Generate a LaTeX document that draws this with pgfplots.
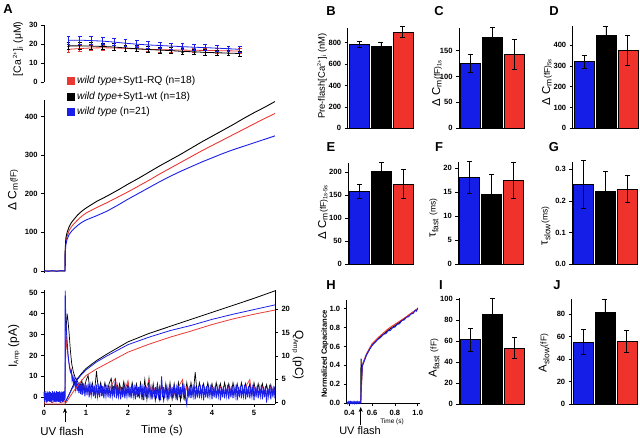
\documentclass[border=0pt]{standalone}
\usepackage{fontspec}
\setmainfont{Liberation Sans}
\usepackage{pgfplots}
\pgfplotsset{compat=1.18}
\usetikzlibrary{arrows.meta}
\definecolor{cblue}{RGB}{25,30,235}
\definecolor{cred}{RGB}{235,55,50}
\definecolor{bblue}{RGB}{20,30,230}
\definecolor{bred}{RGB}{240,50,45}
\pgfplotsset{
 base/.style={scale only axis, tick align=outside, tick style={black, line width=0.6bp}, major tick length=3bp,
   axis line style={line width=0.8bp}, ticklabel style={font=\fontsize{7.6}{9}\selectfont\bfseries},
   /pgf/number format/assume math mode=true, clip=false},
 barp/.style={base, width=65bp, xmin=-0.52, xmax=2.45, ymin=0, axis x line*=bottom, axis y line*=left, xtick=\empty},
 bp/.style={ybar, bar width=0.91, bar shift=0pt, draw=black, line width=0.6bp},
 eb/.style={error bars/.cd, y dir=both, y explicit, error bar style={line width=0.8bp,black}, error mark options={rotate=90, mark size=2.5bp, line width=0.8bp, black}},
 ebc/.style={error bars/.cd, y dir=both, y explicit, error bar style={line width=0.7bp,#1}, error mark options={rotate=90, mark size=1.8bp, line width=0.7bp, #1}},
}
\newcommand{\lab}[1]{{\fontsize{11.5}{12}\selectfont #1}}
\newcommand{\sub}[1]{\textsubscript{\fontsize{8.5}{9}\selectfont #1}}
\newcommand{\sm}[1]{{\fontsize{8.5}{9}\selectfont #1}}
\begin{document}
\begin{tikzpicture}
\path[use as bounding box] (0,0) rectangle (640bp,438bp);

% ---------- A top: Ca ----------
\begin{axis}[base, at={(44bp,356bp)}, anchor=south west, width=231bp, height=57bp, xmin=0, xmax=5.5, ymin=0, ymax=30,
  axis x line=none, axis y line*=left, ytick={0,10,20,30}]
\addplot[cred, line width=0.8bp, ebc=cred] coordinates {
(0.58,17.2)+-(0,1.5)(0.85,17.6)+-(0,1.5)(1.12,17.9)+-(0,1.5)(1.40,18.0)+-(0,1.5)(1.67,17.9)+-(0,1.4)(1.94,17.7)+-(0,1.4)(2.21,17.4)+-(0,1.4)(2.48,17.2)+-(0,1.3)(2.76,17.0)+-(0,1.3)(3.03,16.9)+-(0,1.3)(3.30,16.8)+-(0,1.3)(3.57,16.7)+-(0,1.2)(3.84,16.6)+-(0,1.2)(4.12,16.5)+-(0,1.2)(4.39,16.4)+-(0,1.2)(4.66,16.3)+-(0,1.2)};
\addplot[black, line width=0.8bp, ebc=black] coordinates {
(0.58,19.0)+-(0,1.8)(0.85,19.0)+-(0,1.8)(1.12,18.9)+-(0,1.8)(1.40,18.7)+-(0,1.7)(1.67,18.4)+-(0,1.7)(1.94,17.9)+-(0,1.6)(2.21,17.5)+-(0,1.6)(2.48,17.1)+-(0,1.5)(2.76,16.8)+-(0,1.5)(3.03,16.5)+-(0,1.5)(3.30,16.1)+-(0,1.4)(3.57,15.9)+-(0,1.4)(3.84,15.6)+-(0,1.4)(4.12,15.4)+-(0,1.3)(4.39,15.2)+-(0,1.3)(4.66,15.0)+-(0,1.3)};
\addplot[cblue, line width=0.8bp, ebc=cblue] coordinates {
(0.58,22.0)+-(0,2.0)(0.85,22.0)+-(0,2.0)(1.12,21.8)+-(0,2.0)(1.40,21.5)+-(0,1.9)(1.67,21.0)+-(0,1.9)(1.94,20.4)+-(0,1.8)(2.21,19.9)+-(0,1.8)(2.48,19.5)+-(0,1.7)(2.76,19.2)+-(0,1.7)(3.03,18.9)+-(0,1.6)(3.30,18.6)+-(0,1.6)(3.57,18.3)+-(0,1.5)(3.84,18.1)+-(0,1.5)(4.12,17.8)+-(0,1.5)(4.39,17.5)+-(0,1.4)(4.66,17.2)+-(0,1.4)};
\end{axis}

% ---------- A middle: Cm ----------
\begin{axis}[base, at={(44bp,165.1bp)}, anchor=south west, width=231bp, height=172.9bp, xmin=0, xmax=5.5, ymin=-5, ymax=443,
  axis x line=none, axis y line*=left, ytick={0,100,200,300,400},
  legend style={at={(0.087,1.16)}, anchor=north west, draw=none, fill=none, font=\fontsize{10.3}{12}\selectfont, row sep=2.6bp},
  legend cell align=left,
  legend image code/.code={\fill[#1] (0bp,-3.5bp) rectangle (7bp,3.5bp);}]
\addplot[cred, line width=0.9bp] coordinates {(0,0)(0.5,0)(0.505,50)(0.52,75)(0.55,90)(0.6,105)(0.65,114)(0.7,121)(0.8,132)(0.9,142)(1.0,150)(1.25,164)(1.5,177)(1.75,191)(2.0,205)(2.25,220)(2.5,235)(2.75,251)(3.0,266)(3.25,281)(3.5,296)(3.75,311)(4.0,325)(4.25,339)(4.5,353)(4.75,367)(5.0,381)(5.25,395)(5.5,408)};
\addlegendentry{\textit{wild type}+Syt1-RQ (n=18)}
\addplot[black, line width=0.9bp] coordinates {(0,0)(0.5,0)(0.505,55)(0.52,85)(0.55,100)(0.6,115)(0.65,125)(0.7,132)(0.8,145)(0.9,155)(1.0,163)(1.25,180)(1.5,194)(1.75,209)(2.0,225)(2.25,240)(2.5,256)(2.75,272)(3.0,287)(3.25,302)(3.5,318)(3.75,334)(4.0,349)(4.25,364)(4.5,379)(4.75,395)(5.0,410)(5.25,424)(5.5,439)};
\addlegendentry{\textit{wild type}+Syt1-wt (n=18)}
\addplot[cblue, line width=0.9bp] coordinates {(0,1)(0.1,-1)(0.2,1)(0.3,-1)(0.4,1)(0.5,0)(0.505,45)(0.52,68)(0.55,82)(0.6,95)(0.65,102)(0.7,108)(0.8,118)(0.9,126)(1.0,132)(1.25,143)(1.5,155)(1.75,170)(2.0,186)(2.25,201)(2.5,216)(2.75,231)(3.0,245)(3.25,258)(3.5,270)(3.75,282)(4.0,293)(4.25,304)(4.5,314)(4.75,323)(5.0,332)(5.25,341)(5.5,350)};
\addlegendentry{\textit{wild type} (n=21)}
\end{axis}

% ---------- A bottom: I amp ----------
\begin{axis}[base, at={(44bp,34bp)}, anchor=south west, width=231bp, height=114bp, xmin=0, xmax=5.5, ymin=-3.2, ymax=51.3,
  axis x line*=bottom, axis y line*=left, xtick={0,1,2,3,4,5}, ytick={0,10,20,30,40,50}]
\addplot[black, line width=0.7bp] coordinates {(0,1)(0.1,-1)(0.2,1.5)(0.3,-1)(0.4,1)(0.5,0)(0.51,20)(0.53,34)(0.55,40)(0.57,37)(0.6,30)(0.63,22)(0.66,16)(0.7,12)(0.75,9)(0.8,7.5)(0.85,5)(0.9,8)(0.95,3)(1.0,8)(1.05,10.5)(1.1,2.5)(1.15,7)(1.2,2)(1.25,12.5)(1.3,2.5)(1.35,7)(1.4,1.5)(1.45,7)(1.5,2)(1.55,6.5)(1.6,9)(1.65,2)(1.7,7)(1.75,1.5)(1.8,6.5)(1.85,2)(1.9,7.5)(1.95,1.5)(2.0,6.5)(2.05,1)(2.1,7)(2.15,1.5)(2.2,6.5)(2.25,1)(2.3,7)(2.35,0)(2.4,8.5)(2.45,-1)(2.5,9)(2.55,0)(2.6,6.5)(2.65,-1.5)(2.7,6.5)(2.75,-1)(2.8,7)(2.85,-1.5)(2.9,6.5)(2.95,-1)(3.0,7)(3.05,-1)(3.1,6.5)(3.15,0)(3.2,7)(3.25,-1.5)(3.3,6.5)(3.35,-0.5)(3.4,7)(3.45,0.5)(3.5,7)(3.55,1)(3.6,12)(3.65,1)(3.7,7)(3.75,1.5)(3.8,6.5)(3.85,1)(3.9,7)(3.95,1.5)(4.0,6.5)(4.05,1)(4.1,7)(4.15,1.5)(4.2,6.5)(4.25,1)(4.3,7)(4.35,1.5)(4.4,6.5)(4.45,1)(4.5,7)(4.55,1.5)(4.6,6.5)(4.65,1)(4.7,7)(4.75,1.5)(4.8,6.5)(4.85,1.5)(4.9,6.5)(4.95,1)(5.0,7)(5.05,1.5)(5.1,6.5)(5.15,1)(5.2,6.5)(5.25,1.5)(5.3,6)(5.35,1)(5.4,6)(5.45,1.5)(5.5,5)};
\addplot[cred, line width=0.7bp] coordinates {(0,-2.5)(0.1,-1.5)(0.2,-2.5)(0.3,-1.5)(0.4,-2.5)(0.5,-2)(0.51,15)(0.53,29)(0.55,24)(0.58,18)(0.62,14)(0.66,11)(0.7,9)(0.75,7)(0.8,6)(0.9,5)(0.95,2)(1.0,5.5)(1.1,1.5)(1.2,5)(1.3,1.5)(1.4,5)(1.5,2)(1.6,5.5)(1.7,9)(1.75,2)(1.8,5)(1.9,1.5)(2.0,8)(2.05,2)(2.1,5)(2.2,1.5)(2.3,5)(2.4,2)(2.5,8.5)(2.55,1.5)(2.6,5)(2.7,1.5)(2.8,5)(2.9,2)(3.0,5)(3.1,1.5)(3.2,5)(3.3,8.5)(3.35,1.5)(3.4,5)(3.5,2)(3.6,5)(3.7,1.5)(3.8,5)(3.9,2)(4.0,5)(4.1,1.5)(4.2,5)(4.3,2)(4.4,5)(4.5,1.5)(4.6,5)(4.7,2)(4.8,5)(4.9,8.5)(4.95,1.5)(5.0,5)(5.1,2)(5.2,5)(5.3,1.5)(5.4,5)(5.5,2)};
\addplot[cblue, line width=0.9bp] coordinates {(0,2.5)(0.0125,-2)(0.025,3)(0.0375,-1.5)(0.05,2)(0.0625,-2.5)(0.075,2.8)(0.0875,-2)(0.1,2.2)(0.1125,-1.8)(0.125,3)(0.1375,-2.2)(0.15,2.5)(0.1625,-2)(0.175,2)(0.1875,-2.6)(0.2,3)(0.2125,-1.5)(0.225,2.4)(0.2375,-2.2)(0.25,2.8)(0.2625,-2)(0.275,2.2)(0.2875,-2.4)(0.3,3)(0.3125,-1.8)(0.325,2.5)(0.3375,-2.2)(0.35,2.6)(0.3625,-2)(0.375,3)(0.3875,-2.5)(0.4,2.2)(0.4125,-1.8)(0.425,2.8)(0.4375,-2.2)(0.45,2.5)(0.4625,-2)(0.475,3)(0.4875,-1.5)(0.5,1)
(0.505,51)(0.515,40)(0.53,33)(0.55,27)(0.57,21)(0.59,17)(0.61,14)(0.63,12)(0.65,13)(0.67,8)(0.69,10)(0.71,6)(0.73,8.5)(0.75,4)(0.77,7.5)(0.79,3)(0.81,7)(0.83,2)(0.85,7)(0.87,1.5)(0.89,6.5)(0.91,1)(0.93,6.5)
(0.950,6.5)(0.975,0.5)(1.000,6)(1.025,1)(1.050,6.5)(1.075,0)(1.100,5.5)(1.125,1)(1.150,6)(1.175,0.5)(1.200,5.5)(1.225,-0.5)(1.250,6)(1.275,0.5)(1.300,5)(1.325,0)(1.350,6)(1.375,0.5)(1.400,5.5)(1.425,-0.5)(1.450,5)(1.475,0.5)(1.500,6)(1.525,0)(1.550,5.5)(1.575,-0.5)(1.600,5)(1.625,0.5)(1.650,5.5)(1.675,0)(1.700,9)(1.725,-0.5)(1.750,5)(1.775,0.5)(1.800,5.5)(1.825,-1)(1.850,5)(1.875,0)(1.900,6)(1.925,-0.5)(1.950,5)(1.975,0.5)
(2.000,5.5)(2.025,0)(2.050,5)(2.075,-0.5)(2.100,6)(2.125,0.5)(2.150,4.5)(2.175,-1)(2.200,5.5)(2.225,0)(2.250,5)(2.275,-0.5)(2.300,6)(2.325,0.5)(2.350,4.5)(2.375,-1.5)(2.400,5.5)(2.425,0)(2.450,5)(2.475,-0.5)(2.500,6)(2.525,0.5)(2.550,4.5)(2.575,-1)(2.600,5.5)(2.625,0)(2.650,5)(2.675,-0.5)(2.700,6)(2.725,0.5)(2.750,4.5)(2.775,-1.5)(2.800,10)(2.825,0)(2.850,5)(2.875,-0.5)(2.900,6)(2.925,0.5)(2.950,4.5)(2.975,-1)
(3.000,5.5)(3.025,0)(3.050,5)(3.075,-0.5)(3.100,6)(3.125,0.5)(3.150,4.5)(3.175,-1.5)(3.200,5.5)(3.225,0)(3.250,5)(3.275,-0.5)(3.300,6)(3.325,0.5)(3.350,4.5)(3.375,-1)(3.400,-3.5)(3.425,5)(3.450,0)(3.475,5.5)(3.500,-0.5)(3.525,4.5)(3.550,0.5)(3.575,6)(3.600,-1)(3.625,5)(3.650,0)(3.675,5.5)(3.700,-0.5)(3.725,4.5)(3.750,0.5)(3.775,6)(3.800,-1.5)(3.825,5)(3.850,0)(3.875,5.5)(3.900,-0.5)(3.925,4.5)(3.950,0.5)(3.975,6)
(4.000,-1)(4.025,5)(4.050,0)(4.075,5.5)(4.100,-0.5)(4.125,4.5)(4.150,0.5)(4.175,6)(4.200,-1.5)(4.225,5)(4.250,0)(4.275,5.5)(4.300,-0.5)(4.325,4.5)(4.350,0.5)(4.375,6)(4.400,-1)(4.425,5)(4.450,0)(4.475,5.5)(4.500,-0.5)(4.525,4.5)(4.550,0.5)(4.575,6)(4.600,-1.5)(4.625,5)(4.650,0)(4.675,5.5)(4.700,-0.5)(4.725,4.5)(4.750,0.5)(4.775,6)(4.800,-1)(4.825,5)(4.850,0)(4.875,5.5)(4.900,-0.5)(4.925,4.5)(4.950,0.5)(4.975,6)
(5.000,-1.5)(5.025,5)(5.050,0)(5.075,5.5)(5.100,-0.5)(5.125,4.5)(5.150,0.5)(5.175,6)(5.200,-1)(5.225,5)(5.250,0)(5.275,5.5)(5.300,-2.5)(5.325,4.5)(5.350,0.5)(5.375,6)(5.400,-1)(5.425,5)(5.450,0)(5.475,5.5)(5.500,-0.5)};
\end{axis}
\begin{axis}[base, at={(44bp,34bp)}, anchor=south west, width=231bp, height=114bp, xmin=0, xmax=5.5, ymin=-0.28, ymax=24.08,
  axis x line=none, axis y line*=right, ytick={0,5,10,15,20}]
\addplot[black, line width=0.8bp] coordinates {(0.5,0)(0.6,1.8)(0.7,3.8)(0.8,5.2)(0.9,6.3)(1.0,7.3)(1.25,9.0)(1.5,10.4)(2.0,13.0)(2.5,14.8)(3.0,16.3)(3.5,17.8)(4.0,19.3)(4.5,20.8)(5.0,22.3)(5.5,23.9)};
\addplot[cblue, line width=0.8bp] coordinates {(0.5,0)(0.6,1.8)(0.7,3.6)(0.8,5.0)(0.9,6.1)(1.0,7.0)(1.25,8.7)(1.5,10.0)(2.0,12.4)(2.5,14.0)(3.0,15.4)(3.5,16.5)(4.0,17.8)(4.5,18.9)(5.0,19.9)(5.5,20.9)};
\addplot[cred, line width=0.8bp] coordinates {(0,-0.3)(0.5,-0.3)(0.6,1.0)(0.7,2.4)(0.8,3.6)(0.9,4.8)(1.0,5.8)(1.25,7.2)(1.5,8.4)(2.0,10.8)(2.5,12.5)(3.0,14.0)(3.5,15.3)(4.0,16.7)(4.5,17.9)(5.0,18.9)(5.5,19.8)};
\end{axis}

% ---------- B ----------
\begin{axis}[barp, at={(347.7bp,309.7bp)}, anchor=south west, height=100.3bp, ymax=937, ytick={0,200,400,600,800}]
\addplot[bp, fill=bblue, eb] coordinates {(0,785)+-(0,28)};
\addplot[bp, fill=black, eb] coordinates {(1,765)+-(0,38)};
\addplot[bp, fill=bred, eb] coordinates {(2,900)+-(0,52)};
\end{axis}
% ---------- C ----------
\begin{axis}[barp, at={(459bp,309.7bp)}, anchor=south west, height=100bp, ymax=193, ytick={0,50,100,150}]
\addplot[bp, fill=bblue, eb] coordinates {(0,125)+-(0,17)};
\addplot[bp, fill=black, eb] coordinates {(1,175)+-(0,20)};
\addplot[bp, fill=bred, eb] coordinates {(2,143)+-(0,29)};
\end{axis}
% ---------- D ----------
\begin{axis}[barp, at={(572.7bp,309.7bp)}, anchor=south west, height=102bp, ymax=490, ytick={0,100,200,300,400}]
\addplot[bp, fill=bblue, eb] coordinates {(0,320)+-(0,30)};
\addplot[bp, fill=black, eb] coordinates {(1,448)+-(0,43)};
\addplot[bp, fill=bred, eb] coordinates {(2,373)+-(0,71)};
\end{axis}
% ---------- E ----------
\begin{axis}[barp, at={(348.3bp,173.7bp)}, anchor=south west, height=101.6bp, ymax=221, ytick={0,50,100,150,200}]
\addplot[bp, fill=bblue, eb] coordinates {(0,159)+-(0,15)};
\addplot[bp, fill=black, eb] coordinates {(1,203)+-(0,19)};
\addplot[bp, fill=bred, eb] coordinates {(2,175)+-(0,32)};
\end{axis}
% ---------- F ----------
\begin{axis}[barp, at={(458.3bp,173.7bp)}, anchor=south west, height=101.8bp, ymax=21.2, ytick={0,5,10,15,20}]
\addplot[bp, fill=bblue, eb] coordinates {(0,18.1)+-(0,3.3)};
\addplot[bp, fill=black, eb] coordinates {(1,14.6)+-(0,4.1)};
\addplot[bp, fill=bred, eb] coordinates {(2,17.5)+-(0,3.7)};
\end{axis}
% ---------- G ----------
\begin{axis}[barp, at={(572.3bp,173.7bp)}, anchor=south west, height=102.6bp, ymax=0.324, ytick={0,0.1,0.2,0.3},
  yticklabel style={/pgf/number format/.cd, fixed, fixed zerofill, precision=1}]
\addplot[bp, fill=bblue, eb] coordinates {(0,0.253)+-(0,0.075)};
\addplot[bp, fill=black, eb] coordinates {(1,0.229)+-(0,0.064)};
\addplot[bp, fill=bred, eb] coordinates {(2,0.238)+-(0,0.043)};
\end{axis}
% ---------- H ----------
\begin{axis}[base, at={(346.7bp,34.5bp)}, anchor=south west, width=73.3bp, height=103.7bp, xmin=0.377, xmax=1.02, ymin=-0.005, ymax=1.095,
  axis x line*=bottom, axis y line*=left, xtick={0.4,0.6,0.8,1.0}, ytick={0,0.2,0.4,0.6,0.8,1.0},
  ticklabel style={/pgf/number format/.cd, fixed, fixed zerofill, precision=1}]
\addplot[black, line width=1bp] coordinates {(0.5,0)(0.503,0.47)(0.506,0.22)(0.514,0.40)(0.52,0.42)(0.55,0.51)(0.6,0.62)(0.65,0.68)(0.7,0.73)(0.75,0.78)(0.8,0.82)(0.85,0.865)(0.9,0.91)(0.95,0.955)(1.0,1.0)};
\addplot[cred, line width=1bp] coordinates {(0.5,0)(0.514,0.40)(0.52,0.42)(0.55,0.52)(0.6,0.63)(0.65,0.69)(0.7,0.745)(0.75,0.795)(0.8,0.835)(0.85,0.875)(0.9,0.915)(0.95,0.96)(1.0,1.0)};
\addplot[cblue, line width=0.9bp] coordinates {(0.38,0.01)(0.385,-0.005)(0.39,0.015)(0.395,0)(0.40,0.012)(0.405,-0.004)(0.41,0.014)(0.415,0)(0.42,0.012)(0.425,-0.004)(0.43,0.01)(0.435,0)(0.44,0.015)(0.445,-0.005)(0.45,0.012)(0.455,0)(0.46,0.012)(0.465,-0.004)(0.47,0.014)(0.475,0)(0.48,0.01)(0.485,-0.004)(0.49,0.012)(0.495,0)(0.5,0.005)(0.505,0.2)(0.514,0.39)(0.52,0.41)(0.55,0.51)(0.58,0.575)(0.6,0.61)(0.62,0.635)(0.65,0.675)(0.67,0.69)(0.7,0.73)(0.72,0.735)(0.74,0.765)(0.76,0.77)(0.78,0.8)(0.8,0.805)(0.82,0.835)(0.84,0.84)(0.86,0.875)(0.88,0.88)(0.9,0.91)(0.92,0.915)(0.94,0.945)(0.96,0.95)(0.98,0.985)(0.99,0.975)(1.0,1.01)};
\end{axis}
% ---------- I ----------
\begin{axis}[barp, at={(459.3bp,34bp)}, anchor=south west, height=106bp, ymax=101, ytick={0,20,40,60,80,100}]
\addplot[bp, fill=bblue, eb] coordinates {(0,61.5)+-(0,11)};
\addplot[bp, fill=black, eb] coordinates {(1,85)+-(0,16)};
\addplot[bp, fill=bred, eb] coordinates {(2,53)+-(0,10)};
\end{axis}
% ---------- J ----------
\begin{axis}[barp, at={(571.7bp,34bp)}, anchor=south west, height=104.6bp, ymax=93, ytick={0,20,40,60,80}]
\addplot[bp, fill=bblue, eb] coordinates {(0,55)+-(0,11)};
\addplot[bp, fill=black, eb] coordinates {(1,81.4)+-(0,12)};
\addplot[bp, fill=bred, eb] coordinates {(2,55.5)+-(0,10)};
\end{axis}

% ---------- labels ----------
\begin{scope}[every node/.style={inner sep=0pt}]
\node[font=\fontsize{13}{13}\selectfont\bfseries] at (8bp,429bp) {A};
\node[font=\fontsize{13}{13}\selectfont\bfseries] at (331bp,427bp) {B};
\node[font=\fontsize{13}{13}\selectfont\bfseries] at (439bp,427bp) {C};
\node[font=\fontsize{13}{13}\selectfont\bfseries] at (554bp,427bp) {D};
\node[font=\fontsize{13}{13}\selectfont\bfseries] at (331bp,291bp) {E};
\node[font=\fontsize{13}{13}\selectfont\bfseries] at (439bp,291bp) {F};
\node[font=\fontsize{13}{13}\selectfont\bfseries] at (554bp,291bp) {G};
\node[font=\fontsize{13}{13}\selectfont\bfseries] at (331bp,153bp) {H};
\node[font=\fontsize{13}{13}\selectfont\bfseries] at (441bp,153bp) {I};
\node[font=\fontsize{13}{13}\selectfont\bfseries] at (557bp,153bp) {J};

\node[rotate=90] at (18bp,389bp) {{\fontsize{10.5}{11}\selectfont [Ca\,\textsuperscript{\fontsize{6}{6}\selectfont 2+}]\textsubscript{\fontsize{7}{7}\selectfont i} (μM)}};
\node[rotate=90] at (13bp,248bp) {{\fontsize{12}{12}\selectfont Δ C}\sub{m}\sm{(fF)}};
\node[rotate=90] at (14bp,92bp) {{\fontsize{12}{12}\selectfont I}\textsubscript{\fontsize{6.5}{7}\selectfont Amp}{\fontsize{12}{12}\selectfont\ (pA)}};
\node[rotate=-90] at (298bp,83bp) {{\fontsize{12}{12}\selectfont Q}\textsubscript{\fontsize{6.5}{7}\selectfont Amp}{\fontsize{12}{12}\selectfont\ (pC)}};
\node at (162bp,7bp) {{\fontsize{11.5}{12}\selectfont Time (s)}};
\node at (62bp,7bp) {{\fontsize{11.5}{12}\selectfont UV flash}};
\draw[-{Stealth[length=5bp,width=4bp]}, line width=0.8bp] (65bp,16bp) -- (65bp,30bp);

\node[rotate=90] at (322bp,362bp) {{\fontsize{9.5}{10}\selectfont Pre-flash[Ca\textsuperscript{\fontsize{5.5}{6}\selectfont 2+}]\textsubscript{\fontsize{6}{6}\selectfont i} (nM)}};
\node[rotate=90] at (437bp,355bp) {\lab{Δ C}\sub{m}\sm{(fF)\textsubscript{1s}}};
\node[rotate=90] at (547bp,356bp) {\lab{Δ C}\sub{m}\sm{(fF)\textsubscript{5s}}};
\node[rotate=90] at (323bp,226bp) {\lab{Δ C}\sub{m}\sm{(fF)\textsubscript{1s-5s}}};
\node[rotate=90] at (434bp,220bp) {\lab{τ}\sub{fast}\lab{ }\sm{(ms)}};
\node[rotate=90] at (546bp,212bp) {\lab{τ}\sub{slow}\sm{(ms)}};
\node[rotate=90] at (325bp,84bp) {{\fontsize{7.6}{8}\selectfont\bfseries Normalized Capacitance}};
\node at (392bp,16bp) {{\fontsize{6.5}{7}\selectfont Time (s)}};
\node at (360bp,7bp) {{\fontsize{11}{11}\selectfont UV flash}};
\draw[-{Stealth[length=5bp,width=4bp]}, line width=0.8bp] (360.7bp,13bp) -- (360.7bp,31bp);
\node[rotate=90] at (434bp,80bp) {\lab{A}\sub{fast}\lab{ }\sm{(fF)}};
\node[rotate=90] at (544bp,85bp) {\lab{A}\sub{slow}\sm{(fF)}};
\end{scope}
\end{tikzpicture}
\end{document}
